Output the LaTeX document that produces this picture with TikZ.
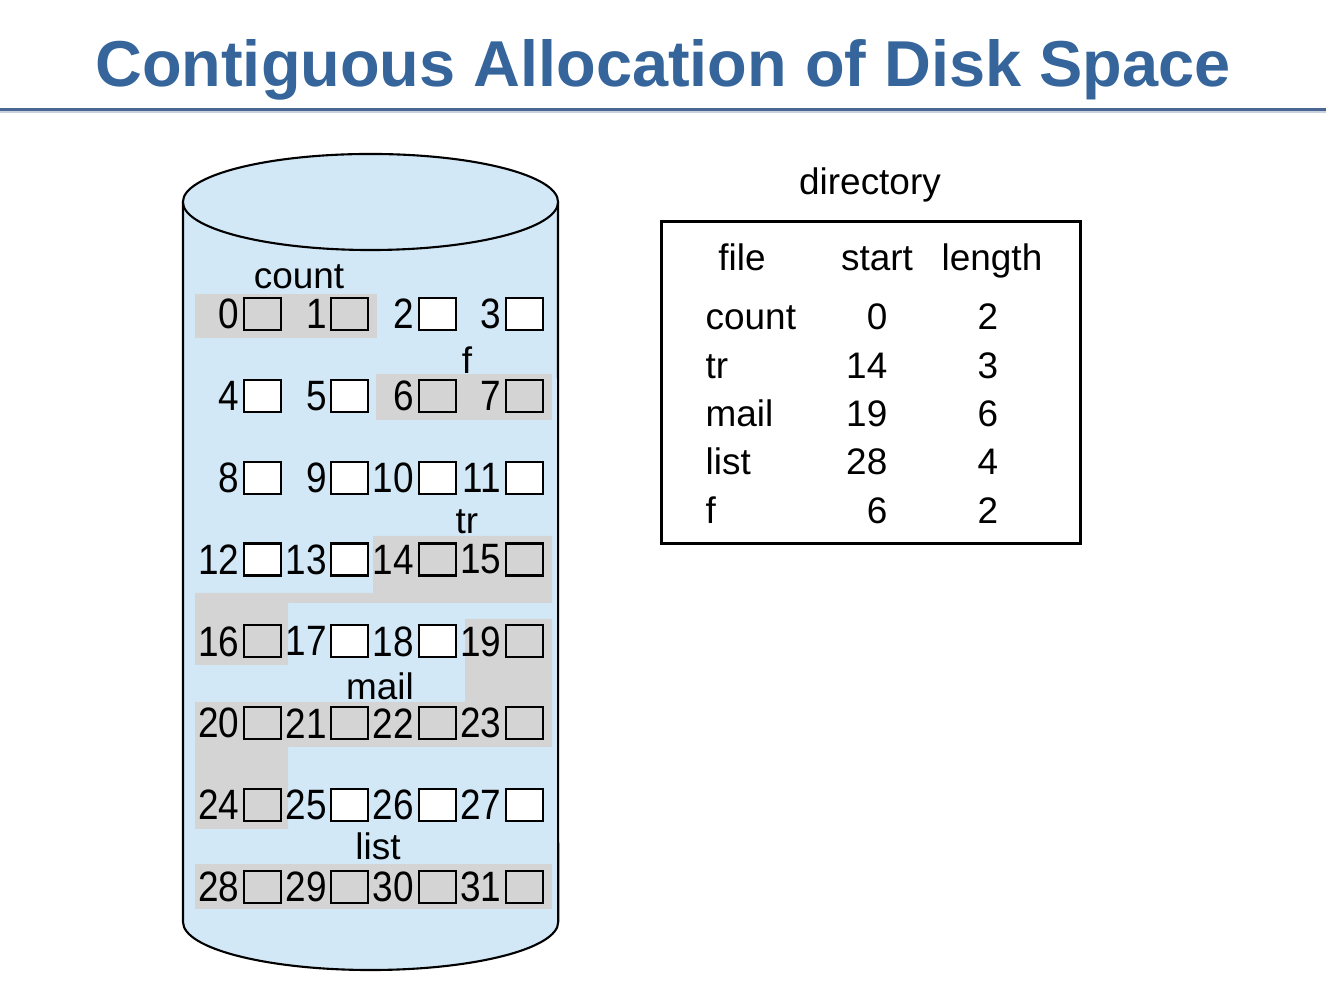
\documentclass[tikz,border=0pt]{standalone}
\usepackage{fontspec}
\setmainfont{Liberation Sans}
\usetikzlibrary{positioning}
\definecolor{titleblue}{HTML}{35659A}
\definecolor{ruleblue}{HTML}{4A6793}
\definecolor{diskblue}{HTML}{D2E8F7}
\definecolor{usedgray}{HTML}{D4D4D4}
\tikzset{
	blk/.style={draw=black, line width=0.6pt, minimum width=0.37cm, minimum height=0.32cm, inner sep=0pt},
	freeblk/.style={blk, fill=white},
	usedblk/.style={blk},
	num/.style={inner sep=0pt, font=\fontsize{10.5}{12}\selectfont},
	lbl/.style={inner sep=0pt, anchor=base, font=\fontsize{10.5}{12}\selectfont},
	used/.style={fill=usedgray},
}

\begin{document}
\begin{tikzpicture}[x=0.01cm,y=-0.01cm]
	\useasboundingbox (0,0) rectangle (1326,1001);

	\node[anchor=base, inner sep=0pt, text=titleblue, font=\fontsize{18.45}{22}\selectfont\bfseries] (title) at (663,87) {Contiguous Allocation of Disk Space};
	\draw[ruleblue, line width=0.85pt] (0,109.5) -- (1326,109.5);
	\draw[ruleblue!30, line width=0.3pt] (0,112) -- (1326,112);

	% disk
	\coordinate (topc) at (370.5,202);
	\filldraw[fill=diskblue, line width=0.6pt] (183,202) -- (183,922) arc[start angle=180, end angle=360, x radius=1.875cm, y radius=0.48cm] -- (558,202);
	\filldraw[fill=diskblue, line width=0.6pt] (topc) ellipse[x radius=1.875cm, y radius=0.48cm];

	\fill[used] (195,294) rectangle (377,338);
	\fill[used] (376,374) rectangle (552,420);
	\fill[used] (373,536) -- (552,536) -- (552,603) -- (288,603) -- (288,665) -- (195,665) -- (195,593) -- (373,593) -- cycle;
	\fill[used] (465,619) -- (552,619) -- (552,747) -- (288,747) -- (288,829) -- (195,829) -- (195,702) -- (465,702) -- cycle;
	\fill[used] (195,864) rectangle (552,909);

	\foreach \r/\fills in {0/{usedblk,usedblk,freeblk,freeblk}, 1/{freeblk,freeblk,usedblk,usedblk}, 2/{freeblk,freeblk,freeblk,freeblk}, 3/{freeblk,freeblk,usedblk,usedblk}, 4/{usedblk,freeblk,freeblk,usedblk}, 5/{usedblk,usedblk,usedblk,usedblk}, 6/{usedblk,freeblk,freeblk,freeblk}, 7/{usedblk,usedblk,usedblk,usedblk}}
		\foreach \s [count=\c from 0] in \fills {
			\pgfmathtruncatemacro\k{4*\r+\c}
			\node[\s, anchor=west] (b\k) at (243+87.3*\c, 314+81.85*\r) {};
			\node[num, left=0.03cm of b\k] (n\k) {\scalebox{1}[1.15]{\k}};
		}

	\node[lbl] (lcount) at (299,289) {count};
	\node[lbl] (lf) at (467,374) {f};
	\node[lbl] (ltr) at (467,534) {tr};
	\node[lbl] (lmail) at (380,700) {mail};
	\node[lbl] (llist) at (378,860) {list};

	% directory
	\node[lbl] (dirlabel) at (870,195) {directory};
	\node[draw, line width=0.85pt, minimum width=4.18cm, minimum height=3.21cm, inner sep=0pt] (dirbox) at (871,382.5) {};
	\node[lbl] (hfile) at (742,271) {file};
	\node[lbl] (hstart) at (877,271) {start};
	\node[lbl] (hlength) at (992,271) {length};
	\foreach \name/\st/\len [count=\i from 0] in {count/0/2, tr/14/3, mail/19/6, list/28/4, f/6/2} {
		\node[lbl, anchor=base west] (name\i) at (705,330+48.3*\i) {\name};
		\node[lbl, anchor=base east] (start\i) at (888,330+48.3*\i) {\st};
		\node[lbl] (len\i) at (988,330+48.3*\i) {\len};
	}
\end{tikzpicture}
\end{document}
